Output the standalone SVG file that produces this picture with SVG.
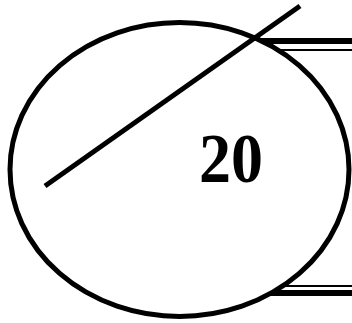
<svg xmlns="http://www.w3.org/2000/svg" width="352" height="323" viewBox="0 0 352 323">
<style>
.ln{stroke:#000;fill:none}
.lbl{font-family:"Liberation Serif","Times New Roman",serif;font-weight:bold;font-size:70px;fill:#000}
</style>
<rect width="352" height="323" fill="#fff"/>
<g id="connectors">
<line class="ln" x1="257" y1="41" x2="352" y2="41" stroke-width="6"/>
<line class="ln" x1="260" y1="50" x2="352" y2="50" stroke-width="2"/>
<line class="ln" x1="260" y1="286" x2="352" y2="286" stroke-width="2"/>
<line class="ln" x1="260" y1="293" x2="352" y2="293" stroke-width="6"/>
</g>
<g id="node20">
<ellipse cx="179.5" cy="169.5" rx="169.5" ry="147" fill="#fff" stroke="#000" stroke-width="5"/>
<text class="lbl" x="199" y="182" textLength="64" lengthAdjust="spacingAndGlyphs">20</text>
</g>
<g id="slash">
<line class="ln" x1="45" y1="186" x2="300" y2="6" stroke-width="5"/>
</g>
</svg>
